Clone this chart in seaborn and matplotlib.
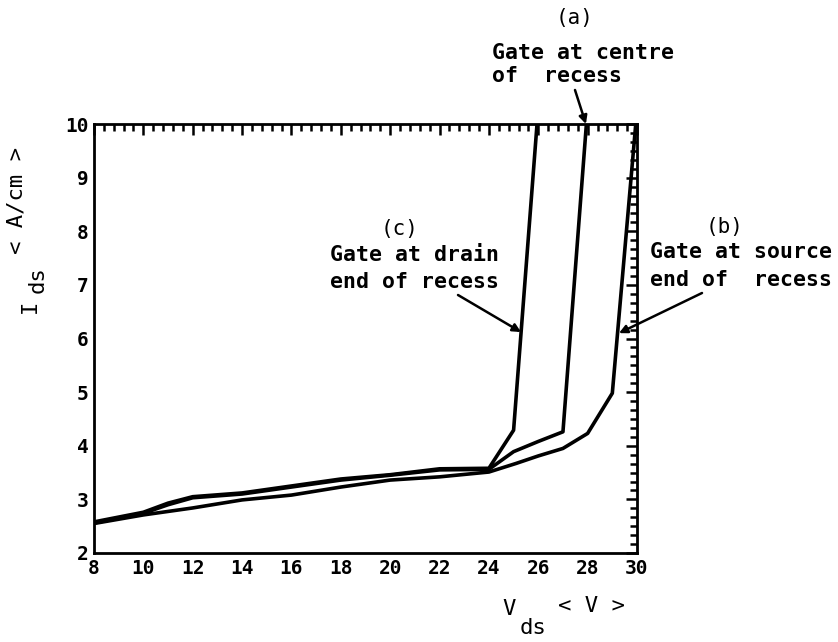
import matplotlib
matplotlib.use("Agg")
import matplotlib.pyplot as plt
from matplotlib.ticker import AutoMinorLocator
import seaborn as sns
import pandas as pd

# ---- data ----
c_vds = [8, 10, 11, 12, 14, 16, 18, 20, 22, 24, 25, 25.95]
c_ids = [2.58, 2.76, 2.93, 3.05, 3.12, 3.25, 3.38, 3.46, 3.57, 3.58, 4.29, 10]
a_vds = [8, 10, 11, 12, 14, 16, 18, 20, 22, 24, 25, 26, 27, 27.95]
a_ids = [2.56, 2.74, 2.9, 3.03, 3.1, 3.23, 3.36, 3.45, 3.55, 3.56, 3.89, 4.08, 4.26, 10]
b_vds = [8, 10, 12, 14, 16, 18, 20, 22, 24, 25.1, 26, 27, 28, 29, 29.95]
b_ids = [2.55, 2.71, 2.84, 2.99, 3.08, 3.23, 3.36, 3.42, 3.51, 3.67, 3.81, 3.95, 4.23, 4.98, 10]

x_ticks = [8, 10, 12, 14, 16, 18, 20, 22, 24, 26, 28, 30]
y_ticks = [2, 3, 4, 5, 6, 7, 8, 9, 10]

W, H = 838, 642
sns.set_theme(style="white")
plt.rcParams["font.family"] = ["DejaVu Sans Mono", "DejaVu Sans"]
plt.rcParams["text.color"] = "black"
plt.rcParams["xtick.color"] = "black"
plt.rcParams["ytick.color"] = "black"
plt.rcParams["xtick.labelcolor"] = "black"
plt.rcParams["ytick.labelcolor"] = "black"

fig = plt.figure(figsize=(W / 100, H / 100), dpi=100)
L, R, T, B = 94, 637, 124, 553
ax = fig.add_axes([L / W, 1 - B / H, (R - L) / W, (B - T) / H])

for xs, ys in [(c_vds, c_ids), (a_vds, a_ids), (b_vds, b_ids)]:
    df = pd.DataFrame({"Vds": xs, "Ids": ys})
    sns.lineplot(data=df, x="Vds", y="Ids", ax=ax, color="black", lw=2.6,
                 sort=False, estimator=None)

ax.set_xlim(8, 30)
ax.set_ylim(2, 10)
ax.set_xticks(x_ticks)
ax.set_yticks(y_ticks)
ax.set_xticklabels([str(v) for v in x_ticks], fontweight="bold", fontsize=14,
                   color="black")
ax.set_yticklabels([str(v) for v in y_ticks], fontweight="bold", fontsize=14,
                   color="black")
ax.xaxis.set_minor_locator(AutoMinorLocator(5))
ax.yaxis.set_minor_locator(AutoMinorLocator(6))
ax.tick_params(which="both", direction="in", top=True, right=True,
               color="black", labelcolor="black", width=1.8)
ax.tick_params(which="major", length=8, pad=4)
ax.tick_params(which="minor", length=5)
ax.set_xlabel("")
ax.set_ylabel("")
for s in ax.spines.values():
    s.set_color("black")
    s.set_linewidth(2.0)
ax.grid(False)

def fp(px, py):
    return (px / W, 1 - py / H)

# axis labels made of pieces
lab = dict(fontsize=16, color="black", fontweight="normal")
fig.text(*fp(509, 609), "V", ha="center", va="center", **lab)
fig.text(*fp(520, 628), "ds", ha="left", va="center", **lab)
fig.text(*fp(558, 606), "< V >", ha="left", va="center", **lab)

fig.text(*fp(30, 306), "I", ha="center", va="center", rotation=90, **lab)
fig.text(*fp(38, 293), "ds", ha="center", va="bottom", rotation=90, **lab)
fig.text(*fp(16, 254), "< A/cm >", ha="center", va="bottom", rotation=90, **lab)

# annotations
bold = dict(fontsize=15.5, fontweight="bold", color="black", va="center", ha="left")
thin = dict(fontsize=15, fontweight="normal", color="black", va="center", ha="center")

fig.text(*fp(575, 18), "(a)", **thin)
fig.text(*fp(492, 53), "Gate at centre", **bold)
fig.text(*fp(492, 76), "of  recess", **bold)

fig.text(*fp(400, 229), "(c)", **thin)
fig.text(*fp(330, 255), "Gate at drain", **bold)
fig.text(*fp(330, 282), "end of recess", **bold)

fig.text(*fp(725, 227), "(b)", **thin)
fig.text(*fp(650, 252), "Gate at source", **bold)
fig.text(*fp(650, 280), "end of  recess", **bold)

arrow = dict(arrowstyle="-|>", color="black", lw=1.8, mutation_scale=12,
             shrinkA=0, shrinkB=0)
ax.annotate("", xy=(27.93, 10.0), xycoords="data",
            xytext=(575, H - 90), textcoords="figure pixels",
            arrowprops=arrow, annotation_clip=False)
ax.annotate("", xy=(25.3, 6.12), xycoords="data",
            xytext=(458, H - 295), textcoords="figure pixels",
            arrowprops=arrow)
ax.annotate("", xy=(29.27, 6.1), xycoords="data",
            xytext=(702, H - 293), textcoords="figure pixels",
            arrowprops=arrow, annotation_clip=False)

fig.savefig("out.png", dpi=100)
